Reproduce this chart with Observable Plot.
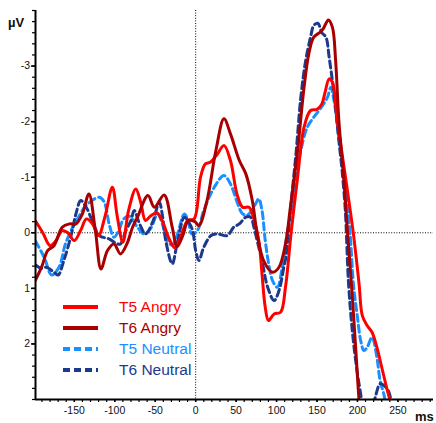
<!DOCTYPE html>
<html>
<head>
<meta charset="utf-8">
<script src="https://cdn.jsdelivr.net/npm/d3@7"></script>
<script src="https://cdn.jsdelivr.net/npm/@observablehq/plot@0.6"></script>
<style>
  body { margin: 0; background: #fff; }
  #chart svg { display: block; }
</style>
</head>
<body>
<div id="chart"></div>
<script>
// ERP waveforms (ms after stimulus onset, amplitude in µV; negative plotted up)
const t5AngryMs = [-198,-189,-180,-173,-165,-158,-150,-142,-135,-127,-120,-112,-103,-97,-90,-83,-74,-68,-62,-56,-48,-41,-33,-26,-18,-10,-2,6,12,18,26,35,43,51,58,66,70,78,82,86,90,97,105,111,118,126,134,142,150,156,160,165,169,175,181,187,195,202,206,212,218,224,230,237,242];
const t5AngryUv = [-0.21,0.0,0.23,0.15,-0.04,0.0,0.14,-0.05,-0.25,-0.15,0.05,-0.3,-0.82,-0.3,0.17,-0.4,-0.79,-0.55,-0.22,-0.3,-0.36,-0.2,0.1,0.27,0.05,-0.22,-0.25,-1.0,-1.24,-1.27,-1.4,-1.57,-1.3,-0.7,-0.46,-0.46,-0.34,0.14,0.74,1.34,1.58,1.46,1.43,0.98,0.0,-1.0,-1.9,-2.2,-2.22,-2.32,-2.53,-2.77,-2.71,-2.02,-1.42,-0.82,0.02,0.92,1.49,1.67,1.79,2.06,2.42,2.84,3.1];

const t6AngryMs = [-198,-190,-183,-175,-165,-156,-148,-140,-132,-124,-117,-109,-101,-93,-85,-78,-72,-59,-51,-39,-29,-23,-16,-9,-1,4,14,25,35,43,54,62,70,76,84,95,103,111,117,126,134,140,146,154,158,164,169,173,177,183,187,194,198,202,205];
const t6AngryUv = [0.85,0.6,0.32,0.23,-0.1,-0.16,-0.16,-0.34,-0.7,-0.04,0.65,0.32,0.2,0.38,0.2,-0.1,-0.28,-0.67,-0.46,-0.68,-0.1,0.25,0.05,-0.22,-0.2,-0.13,-0.58,-1.48,-2.05,-1.78,-1.3,-1.06,-0.58,0.02,0.5,0.71,0.62,0.2,-0.45,-1.48,-2.62,-3.23,-3.52,-3.61,-3.68,-3.83,-3.7,-3.1,-2.02,-1.0,-0.16,1.22,2.12,3.02,3.5];

const t5NeutralMs = [-198,-187,-178,-169,-161,-152,-144,-135,-119,-113,-107,-101,-95,-89,-82,-72,-64,-56,-47,-41,-35,-29,-23,-14,-9,-5,2,10,23,35,43,52,58,64,69,74,78,82,86,91,95,101,107,113,121,130,138,146,154,163,167,171,177,183,188,191,195,200,204,208,212,218,224,228,233,236];
const t5NeutralUv = [0.15,0.45,0.76,0.62,0.2,-0.1,-0.3,-0.5,-0.64,-0.55,-0.16,0.08,-0.04,-0.25,-0.3,-0.1,0.02,-0.07,-0.34,-0.15,0.14,0.22,0.05,-0.34,-0.2,0.02,-0.04,-0.4,-0.82,-1.03,-0.88,-0.52,-0.34,-0.32,-0.4,-0.52,-0.61,-0.4,0.14,0.62,0.86,0.98,0.62,0.02,-0.64,-1.48,-1.9,-2.08,-2.23,-2.44,-2.62,-2.38,-1.72,-1.12,-0.4,0.02,0.92,1.52,1.94,2.12,2.06,1.88,2.24,2.66,2.93,3.2];

const t6NeutralMs = [-198,-191,-185,-175,-170,-163,-154,-148,-142,-135,-128,-119,-107,-97,-93,-86,-80,-76,-69,-62,-53,-45,-41,-37,-29,-23,-14,-9,-4,0,4,10,19,27,39,47,54,62,68,72,76,82,89,97,103,109,112,117,124,130,136,142,146,151,156,161,165,171,177,181,185,189,194,200,204,206,211,216,222,228,233,239,242];
const t6NeutralUv = [0.58,0.64,0.62,0.71,0.76,0.5,0.05,-0.34,-0.58,-0.45,-0.22,0.05,0.11,0.2,0.2,-0.05,-0.22,-0.4,-0.15,0.02,-0.2,-0.55,-0.3,0.14,0.56,0.2,-0.28,-0.2,-0.05,0.32,0.5,0.26,0.05,0.02,0.05,-0.1,-0.16,-0.28,-0.28,-0.1,0.14,0.5,0.98,1.22,1.04,0.62,0.4,-0.4,-1.42,-2.44,-3.1,-3.52,-3.73,-3.77,-3.6,-3.52,-3.16,-2.5,-1.66,-1.12,-0.4,0.92,1.82,2.54,2.9,3.1,3.3,3.3,2.96,2.72,2.75,2.87,3.1];

const seriesNames = ["T5 Angry", "T6 Angry", "T5 Neutral", "T6 Neutral"];
const seriesColors = ["#ff0000", "#a80000", "#1a8fff", "#1c3a8c"];
const seriesDash = [null, null, "7,4", "7,4"];

const xTicks = [-150, -100, -50, 0, 50, 100, 150, 200, 250];
const yTicks = [-3, -2, -1, 0, 1, 2];
const xDomain = [-198, 294];
const yDomain = [-4, 3];

const xMinorTicks = d3.range(-190, 291, 10);
const yMinorTicks = d3.range(-40, 31, 2).map(d => d / 10);

const rows = (name, ms, uv) => ms.map((t, i) => ({series: name, t, uv: uv[i]}));
const seriesData = [
  rows("T5 Angry", t5AngryMs, t5AngryUv),
  rows("T6 Angry", t6AngryMs, t6AngryUv),
  rows("T5 Neutral", t5NeutralMs, t5NeutralUv),
  rows("T6 Neutral", t6NeutralMs, t6NeutralUv)
];

const wave = (i) => Plot.line(seriesData[i], {
  x: "t", y: "uv",
  stroke: seriesColors[i],
  strokeWidth: 3,
  strokeDasharray: seriesDash[i] ?? undefined,
  curve: "catmull-rom",
  clip: true
});

const fmt = d => String(d);
const font = "'Liberation Sans', Arial, sans-serif";

const chart = Plot.plot({
  width: 436,
  height: 423,
  marginLeft: 35,
  marginRight: 3,
  marginTop: 10,
  marginBottom: 24,
  style: {fontFamily: font, fontSize: "10.5px", color: "#111", background: "#fff"},
  x: {domain: xDomain, label: null},
  y: {domain: yDomain, reverse: true, label: null},
  marks: [
    Plot.ruleY([0], {stroke: "#000", strokeWidth: 1, strokeDasharray: "1,1.6"}),
    Plot.ruleX([0], {stroke: "#000", strokeWidth: 1, strokeDasharray: "1,1.6"}),
    wave(2),
    wave(3),
    wave(0),
    wave(1),
    Plot.axisY(yMinorTicks, {tickSize: 3, tickFormat: () => "", strokeWidth: 1.2, stroke: "#000"}),
    Plot.axisY(yTicks, {tickSize: 4, tickPadding: 1.5, tickFormat: fmt, strokeWidth: 1.5, stroke: "#000", fill: "#111"}),
    Plot.axisX(xMinorTicks, {tickSize: 3, tickFormat: () => "", strokeWidth: 1.2, stroke: "#000"}),
    Plot.axisX(xTicks, {tickSize: 3, tickPadding: 4, tickFormat: fmt, strokeWidth: 1.5, stroke: "#000", fill: "#111"}),
    Plot.ruleX([xDomain[0]], {stroke: "#000", strokeWidth: 2}),
    Plot.ruleY([yDomain[1]], {stroke: "#000", strokeWidth: 2})
  ]
});

const svg = d3.select(chart);

// unit labels
svg.append("text")
  .attr("x", 8).attr("y", 26.5)
  .attr("text-anchor", "start")
  .attr("font-family", font)
  .attr("font-weight", "bold").attr("font-size", 13).attr("fill", "#111")
  .text("µV");
svg.append("text")
  .attr("x", 415).attr("y", 421)
  .attr("text-anchor", "start")
  .attr("font-family", font)
  .attr("font-weight", "bold").attr("font-size", 13).attr("fill", "#111")
  .text("ms");

// legend
const legend = svg.append("g")
  .attr("text-anchor", "start")
  .attr("font-family", font)
  .attr("font-size", 15.5);
seriesNames.forEach((name, i) => {
  const ly = 307 + i * 21;
  const ln = legend.append("line")
    .attr("x1", 63).attr("x2", 98).attr("y1", ly).attr("y2", ly)
    .attr("stroke", seriesColors[i]).attr("stroke-width", 4);
  if (seriesDash[i]) ln.attr("stroke-dasharray", seriesDash[i]);
  legend.append("text")
    .attr("x", 119).attr("y", ly).attr("dy", "0.32em")
    .attr("fill", seriesColors[i])
    .text(name);
});

document.getElementById("chart").appendChild(chart);
</script>
</body>
</html>
